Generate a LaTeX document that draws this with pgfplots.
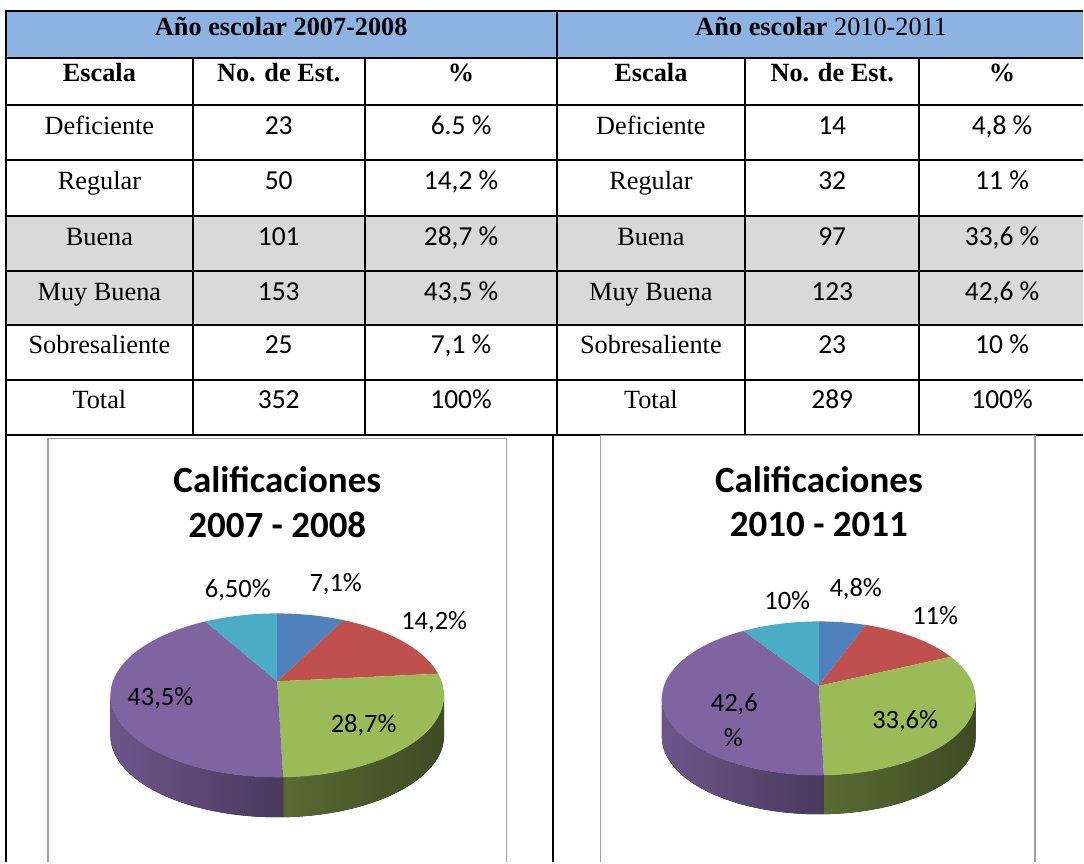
\documentclass[border=0pt]{standalone}
\usepackage{fontspec}
\setmainfont{Liberation Serif}
\newfontfamily\calibrifont{Carlito}
\usepackage{pgfplots}
\usepackage{pgfplotstable}
\pgfplotsset{compat=1.18}

\definecolor{hdr}{HTML}{8DB3E2}
\definecolor{gris}{HTML}{D9D9D9}
\definecolor{caja}{HTML}{A0A0A0}
\definecolor{c1}{HTML}{4F81BD}
\definecolor{c2}{HTML}{C0504D}
\definecolor{c3}{HTML}{9BBB59}
\definecolor{c4}{HTML}{8064A2}
\definecolor{c5}{HTML}{4BACC6}
% caras laterales (claro a la izquierda, oscuro a la derecha)
\colorlet{sL1}{c1!60!black}\colorlet{sR1}{c1!40!black}
\colorlet{sL2}{c2!60!black}\colorlet{sR2}{c2!40!black}
\colorlet{sL3}{c3!57!black}\colorlet{sR3}{c3!40!black}
\colorlet{sL4}{c4!85!black}\colorlet{sR4}{c4!57!black}
\colorlet{sL5}{c5!60!black}\colorlet{sR5}{c5!40!black}

% alumnos por escala (orden de las porciones, desde arriba en sentido horario)
\pgfplotstableread{
escala n
Deficiente 23
Regular 50
Buena 101
MuyBuena 153
Sobresaliente 25
}\tablaA
\pgfplotstableread{
escala n
Deficiente 14
Regular 32
Buena 97
MuyBuena 123
Sobresaliente 23
}\tablaB

% angulos acumulados de cada porcion
\newcommand\angulos[2]{%
  \def\tot{0}%
  \pgfplotsforeachungrouped \i in {0,...,4}{%
    \pgfplotstablegetelem{\i}{n}\of{#1}%
    \pgfmathsetmacro\tot{\tot+\pgfplotsretval}}%
  \def\cum{0}%
  \expandafter\xdef\csname #2a0\endcsname{90}%
  \pgfplotsforeachungrouped \i in {0,...,4}{%
    \pgfplotstablegetelem{\i}{n}\of{#1}%
    \pgfmathsetmacro\cum{\cum+\pgfplotsretval}%
    \pgfmathtruncatemacro\j{\i+1}%
    \pgfmathsetmacro\fr{\cum/\tot}%
    \pgfmathsetmacro\ang{90-360*\fr}%
    \expandafter\xdef\csname #2a\j\endcsname{\ang}}%
}
\angulos{\tablaA}{A}
\angulos{\tablaB}{B}

% #1 prefijo, #2 cx, #3 cy, #4 rx, #5 ry, #6 grosor, #7 y del vertice
\newcommand\pastel[7]{%
  \pgfplotsforeachungrouped \k in {0,...,4}{%
    \pgfmathtruncatemacro\kk{\k+1}%
    \edef\s{\csname #1a\k\endcsname}%
    \edef\e{\csname #1a\kk\endcsname}%
    \pgfmathsetmacro\hi{min(\s,0)}%
    \pgfmathsetmacro\lo{max(\e,-180)}%
    \pgfmathtruncatemacro\vis{\hi>\lo}%
    \ifnum\vis=1
      \pgfmathsetmacro\px{#2+#4*cos(\hi)}%
      \pgfmathsetmacro\py{#3+#5*sin(\hi)}%
      \edef\tmp{\noexpand\fill[left color=sL\kk, right color=sR\kk]
        (axis cs:\px,\py) arc[start angle=\hi, end angle=\lo, x radius=#4pt, y radius=#5pt]
        -- ++(0pt,-#6pt) arc[start angle=\lo, end angle=\hi, x radius=#4pt, y radius=#5pt] -- cycle;}%
      \tmp
    \fi}%
  \pgfplotsforeachungrouped \k in {0,...,4}{%
    \pgfmathtruncatemacro\kk{\k+1}%
    \edef\s{\csname #1a\k\endcsname}%
    \edef\e{\csname #1a\kk\endcsname}%
    \pgfmathsetmacro\px{#2+#4*cos(\s)}%
    \pgfmathsetmacro\py{#3+#5*sin(\s)}%
    \edef\tmp{\noexpand\fill[c\kk] (axis cs:#2,#7) -- (axis cs:\px,\py)
      arc[start angle=\s, end angle=\e, x radius=#4pt, y radius=#5pt] -- cycle;}%
    \tmp}%
}

\tikzset{
  tnr/.style={anchor=base, inner sep=0pt, font=\fontsize{26.3}{30}\selectfont},
  tnb/.style={anchor=base, inner sep=0pt, font=\fontsize{26.3}{30}\selectfont\bfseries},
  num/.style={anchor=base, inner sep=0pt, font=\calibrifont\fontsize{27.5}{31}\selectfont},
  tit/.style={anchor=base, inner sep=0pt, font=\calibrifont\bfseries\fontsize{37}{41}\selectfont},
  lab/.style={font=\calibrifont\fontsize{26.5}{30}\selectfont},
}

\begin{document}
\begin{tikzpicture}
\begin{axis}[
    x=1pt, y=1pt, scale only axis,
    xmin=0, xmax=1084, ymin=0, ymax=863,
    hide axis, clip=false,
]
\fill[white] (axis cs:0,0) rectangle (axis cs:1084,863);
% fondos de la tabla
\fill[hdr] (axis cs:6,805) rectangle (axis cs:1084,852);
\fill[gris] (axis cs:6,538) rectangle (axis cs:1084,647);
% lineas de la tabla
\pgfplotsinvokeforeach{852,805,758,703,647,592,538,483,428}{
  \draw[line width=2pt] (axis cs:6,#1) -- (axis cs:1084,#1);
}
\draw[line width=2pt] (axis cs:6,853) -- (axis cs:6,0);
\draw[line width=2pt] (axis cs:558,853) -- (axis cs:558,428);
\draw[line width=2pt] (axis cs:554,428) -- (axis cs:554,0);
\draw[line width=2pt] (axis cs:193,805) -- (axis cs:193,428);
\draw[line width=2pt] (axis cs:365,805) -- (axis cs:365,428);
\draw[line width=2pt] (axis cs:746,805) -- (axis cs:746,428);
\draw[line width=2pt] (axis cs:920,805) -- (axis cs:920,428);

% cabeceras
\node[tnb] at (axis cs:281.5,827) {Año escolar 2007-2008};
\node[tnr] at (axis cs:822,827) {\textbf{Año escolar} 2010-2011};
\node[tnb] at (axis cs:99.5,781.3) {Escala};
\node[tnb] at (axis cs:279,781.3) {No. de Est.};
\node[tnb] at (axis cs:461.5,781.3) {\%};
\node[tnb] at (axis cs:651.5,781.3) {Escala};
\node[tnb] at (axis cs:833,781.3) {No. de Est.};
\node[tnb] at (axis cs:1003,781.3) {\%};

% filas 2007-2008
\node[tnr] at (axis cs:99.5,728.7) {Deficiente};
\node[tnr] at (axis cs:99.5,673.7) {Regular};
\node[tnr] at (axis cs:99.5,617.7) {Buena};
\node[tnr] at (axis cs:99.5,562.7) {Muy Buena};
\node[tnr] at (axis cs:99.5,508.7) {Sobresaliente};
\node[tnr] at (axis cs:99.5,453.7) {Total};
\node[num] at (axis cs:279,728.7) {23};
\node[num] at (axis cs:279,673.7) {50};
\node[num] at (axis cs:279,617.7) {101};
\node[num] at (axis cs:279,562.7) {153};
\node[num] at (axis cs:279,508.7) {25};
\node[num] at (axis cs:279,453.7) {352};
\node[num] at (axis cs:461.5,728.7) {6.5 \%};
\node[num] at (axis cs:461.5,673.7) {14,2 \%};
\node[num] at (axis cs:461.5,617.7) {28,7 \%};
\node[num] at (axis cs:461.5,562.7) {43,5 \%};
\node[num] at (axis cs:461.5,508.7) {7,1 \%};
\node[num] at (axis cs:461.5,453.7) {100\%};

% filas 2010-2011
\node[tnr] at (axis cs:651.5,728.7) {Deficiente};
\node[tnr] at (axis cs:651.5,673.7) {Regular};
\node[tnr] at (axis cs:651.5,617.7) {Buena};
\node[tnr] at (axis cs:651.5,562.7) {Muy Buena};
\node[tnr] at (axis cs:651.5,508.7) {Sobresaliente};
\node[tnr] at (axis cs:651.5,453.7) {Total};
\node[num] at (axis cs:833,728.7) {14};
\node[num] at (axis cs:833,673.7) {32};
\node[num] at (axis cs:833,617.7) {97};
\node[num] at (axis cs:833,562.7) {123};
\node[num] at (axis cs:833,508.7) {23};
\node[num] at (axis cs:833,453.7) {289};
\node[num] at (axis cs:1003,728.7) {4,8 \%};
\node[num] at (axis cs:1003,673.7) {11 \%};
\node[num] at (axis cs:1003,617.7) {33,6 \%};
\node[num] at (axis cs:1003,562.7) {42,6 \%};
\node[num] at (axis cs:1003,508.7) {10 \%};
\node[num] at (axis cs:1003,453.7) {100\%};

% marcos de los graficos
\draw[caja, line width=1.5pt] (axis cs:48,0) -- (axis cs:48,424) -- (axis cs:507,424) -- (axis cs:507,0);
\draw[caja, line width=1.5pt] (axis cs:601,0) -- (axis cs:601,427) -- (axis cs:1036,427) -- (axis cs:1036,0);

% pasteles
\pastel{A}{277.5}{167}{167}{82}{40}{181}
\pastel{B}{819.5}{164}{157}{77}{39}{176.5}

\node[tit] at (axis cs:277.5,369.7) {Calificaciones};
\node[tit] at (axis cs:277.5,325.3) {2007 - 2008};
\node[tit] at (axis cs:819.7,370.2) {Calificaciones};
\node[tit] at (axis cs:819.7,325.8) {2010 - 2011};

\node[lab] at (axis cs:238,272) {6,50\%};
\node[lab] at (axis cs:336,278) {7,1\%};
\node[lab] at (axis cs:434.6,240) {14,2\%};
\node[lab] at (axis cs:160.5,164) {43,5\%};
\node[lab] at (axis cs:364,137) {28,7\%};

\node[lab] at (axis cs:788,262) {10\%};
\node[lab] at (axis cs:856.5,273) {4,8\%};
\node[lab] at (axis cs:936,247) {11\%};
\node[lab] at (axis cs:735,158) {42,6};
\node[lab] at (axis cs:734,124.5) {\%};
\node[lab] at (axis cs:906,141) {33,6\%};
\end{axis}
\end{tikzpicture}
\end{document}
